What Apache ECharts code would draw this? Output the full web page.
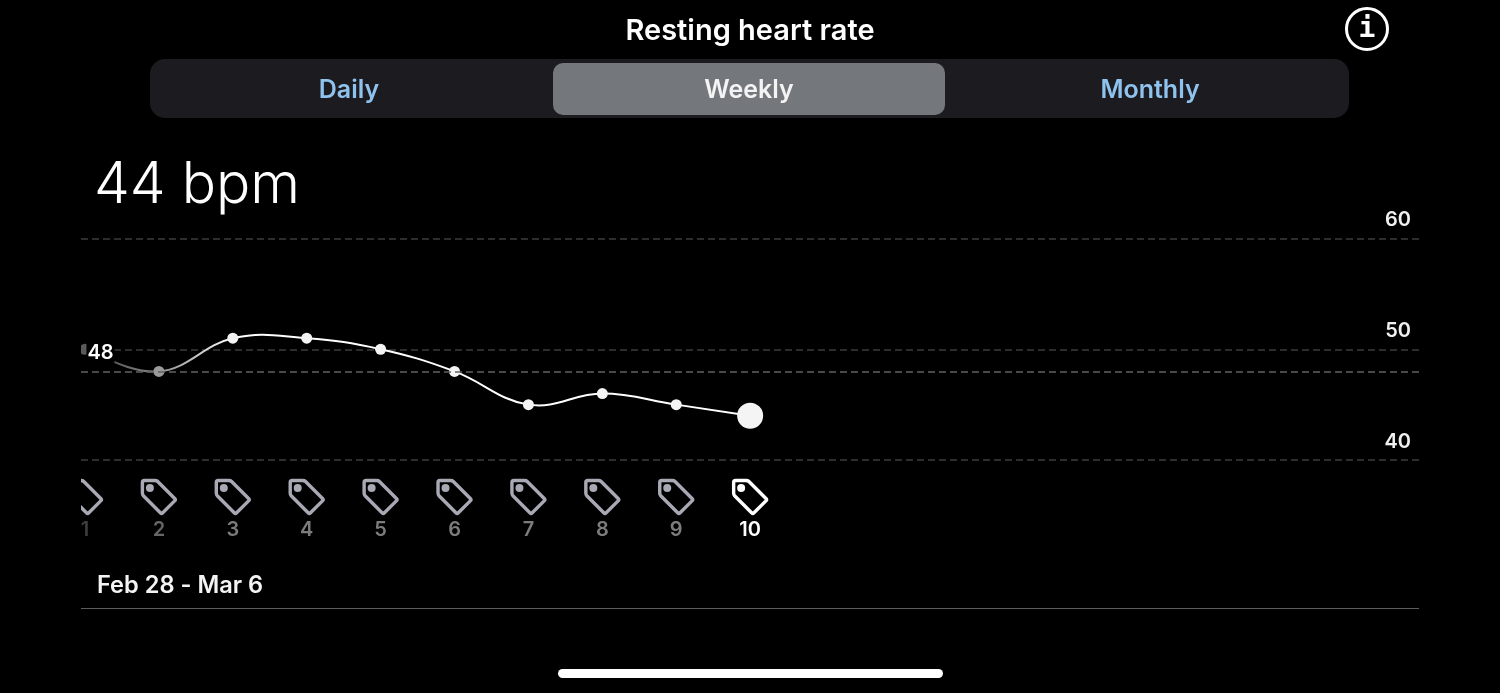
<!DOCTYPE html>
<html>
<head>
<meta charset="utf-8">
<style>html,body{margin:0;padding:0;background:#000}#c{width:1500px;height:693px}</style>
<script src="https://cdn.jsdelivr.net/npm/echarts@6/dist/echarts.min.js"></script>
</head>
<body>
<div id="c"></div>
<script>
const weeks = [1, 2, 3, 4, 5, 6, 7, 8, 9, 10];
const bpm = [50, 48, 51, 51, 50, 48, 45, 46, 45, 44];
const average = 48;
const yTicks = [40, 50, 60];
const tabs = ['Daily', 'Weekly', 'Monthly'];
const titleText = 'Resting heart rate';
const currentText = '44 bpm';
const rangeText = 'Feb 28 - Mar 6';

const FONT = 'Inter';
const TAG = 'path://M3 1H14Q16 1 17 2L35 20Q36 21 35 22L22 35Q21 36 20 35L2 17Q1 16 1 14V3Q1 1 3 1Z';
const last = weeks.length - 1;
const xMin = 0.946, xMax = 19.05;
const dotColor = i => i === 0 ? '#5a5a5a' : i === 1 ? '#9a9a9a' : '#f4f4f4';
const tagColor = i => i === last ? '#ffffff' : '#a9a9b5';
const labelColor = i => i === last ? '#ffffff' : i === 0 ? '#3e3e3e' : i === 1 ? '#666666' : '#7c7c7c';
const lineGradient = {type: 'linear', global: true, x: 81, y: 0, x2: 235, y2: 0,
  colorStops: [{offset: 0, color: '#3c3c3c'}, {offset: 0.5, color: '#8a8a8a'}, {offset: 1, color: '#ffffff'}]};

const chart = echarts.init(document.getElementById('c'), null, {renderer: 'canvas'});
const xBase = {type: 'value', min: xMin, max: xMax, splitLine: {show: false}, axisLine: {show: false}, axisTick: {show: false}};
const tabX = [349, 749, 1150];
const TENSION = 0.2;

function renderCurveSegment(params, api) {
  const i = params.dataIndex;
  if (i >= last) return null;
  const pt = k => api.coord([weeks[Math.max(0, Math.min(last, k))], bpm[Math.max(0, Math.min(last, k))]]);
  const p0 = pt(i - 1), p1 = pt(i), p2 = pt(i + 1), p3 = pt(i + 2);
  return {
    type: 'bezierCurve',
    shape: {
      x1: p1[0], y1: p1[1], x2: p2[0], y2: p2[1],
      cpx1: p1[0] + (p2[0] - p0[0]) * TENSION, cpy1: p1[1] + (p2[1] - p0[1]) * TENSION,
      cpx2: p2[0] - (p3[0] - p1[0]) * TENSION, cpy2: p2[1] - (p3[1] - p1[1]) * TENSION
    },
    style: {stroke: lineGradient, fill: null, lineWidth: 2}
  };
}

chart.setOption({
  backgroundColor: '#000000',
  animation: false,
  title: {text: titleText, left: 'center', top: 12,
    textStyle: {color: '#ffffff', fontFamily: FONT, fontSize: 29, fontWeight: 600}},
  grid: [
    {left: 81, right: 81, top: 238.5, height: 221.5},
    {left: 81, right: 81, top: 476, height: 42}
  ],
  xAxis: [
    Object.assign({gridIndex: 0, axisLabel: {show: false}}, xBase),
    Object.assign({gridIndex: 1, axisLabel: {
      show: true, customValues: weeks, margin: 2,
      fontFamily: FONT, fontSize: 20, fontWeight: 600,
      formatter: v => String(v),
      color: v => labelColor(weeks.indexOf(Number(v)))
    }}, xBase)
  ],
  yAxis: [
    {gridIndex: 0, type: 'value', position: 'right', min: 40, max: 60, interval: 10,
      axisLine: {show: false}, axisTick: {show: false},
      splitLine: {show: true, lineStyle: {color: '#3c3c3c', width: 1.5, type: [7, 4]}},
      axisLabel: {inside: true, margin: 8, verticalAlign: 'bottom', color: '#f0f0f0',
        fontFamily: FONT, fontSize: 20, fontWeight: 600, padding: [0, 0, 8.5, 0],
        formatter: v => yTicks.includes(v) ? String(v) : ''}},
    {gridIndex: 1, type: 'value', min: 0, max: 1, show: false}
  ],
  series: [
    {type: 'custom', xAxisIndex: 0, yAxisIndex: 0, z: 3, clip: true, renderItem: renderCurveSegment,
      data: weeks.map((w, i) => [w, bpm[i]]), encode: {x: 0, y: 1},
      markLine: {silent: true, symbol: 'none', label: {show: false}, animation: false,
        lineStyle: {color: '#626262', width: 1.5, type: [7, 4]}, data: [{yAxis: average}]}},
    {type: 'scatter', xAxisIndex: 0, yAxisIndex: 0, z: 4, clip: false,
      data: weeks.map((w, i) => ({value: [w, bpm[i]], symbolSize: i === last ? 26 : 11, itemStyle: {color: dotColor(i), opacity: 1}}))},
    {type: 'scatter', xAxisIndex: 0, yAxisIndex: 0, z: 5, symbolSize: 1, clip: false,
      itemStyle: {color: 'transparent', opacity: 1},
      data: [[1.21, 49.68]],
      label: {show: true, position: 'inside', formatter: String(average), color: '#ffffff', opacity: 1,
        fontFamily: FONT, fontSize: 20, fontWeight: 600, backgroundColor: '#000000', padding: [0, 1]}},
    {type: 'scatter', xAxisIndex: 1, yAxisIndex: 1, z: 3, clip: false, symbol: TAG, symbolSize: 33, symbolKeepAspect: true,
      data: weeks.map((w, i) => ({value: [w, 0.5], itemStyle: {color: 'transparent', borderColor: tagColor(i), borderWidth: 3.4, opacity: 1}}))},
    {type: 'scatter', xAxisIndex: 1, yAxisIndex: 1, z: 4, clip: false, symbolSize: 8, symbolOffset: [-9, -9],
      data: weeks.map((w, i) => ({value: [w, 0.5], itemStyle: {color: tagColor(i), opacity: 1}}))}
  ],
  graphic: [
    {type: 'rect', z: 0, shape: {x: 150, y: 59, width: 1199, height: 59, r: 15}, style: {fill: '#1c1c20'}},
    {type: 'rect', z: 1, shape: {x: 553, y: 63, width: 392, height: 52, r: 10}, style: {fill: '#74777b'}},
    ...tabs.map((t, i) => ({type: 'text', z: 2, x: tabX[i], y: 90,
      style: {text: t, fill: i === 1 ? '#f4f4f4' : '#8fc3ee', font: '600 25px ' + FONT, textAlign: 'center', textVerticalAlign: 'middle'}})),
    {type: 'circle', z: 2, shape: {cx: 1367, cy: 29, r: 20.5}, style: {fill: 'none', stroke: '#ffffff', lineWidth: 3}},
    {type: 'text', z: 2, x: 1367, y: 30, style: {text: 'i', fill: '#ffffff', font: 'bold 28px "DejaVu Sans Mono"', textAlign: 'center', textVerticalAlign: 'middle'}},
    {type: 'text', z: 2, x: 94, y: 186, style: {text: currentText, fill: '#ffffff', font: '300 57px ' + FONT, textVerticalAlign: 'middle'}},
    {type: 'rect', z: 20, shape: {x: 0, y: 230, width: 81, height: 315}, style: {fill: '#000000'}},
    {type: 'text', z: 2, x: 97, y: 586, style: {text: rangeText, fill: '#f4f4f4', font: '600 23.6px ' + FONT, textVerticalAlign: 'middle'}},
    {type: 'rect', z: 2, shape: {x: 81, y: 608, width: 1338, height: 1}, style: {fill: '#5c5c5c'}},
    {type: 'rect', z: 2, shape: {x: 558, y: 669, width: 385, height: 9, r: 4.5}, style: {fill: '#ffffff'}}
  ]
});
</script>
</body>
</html>
